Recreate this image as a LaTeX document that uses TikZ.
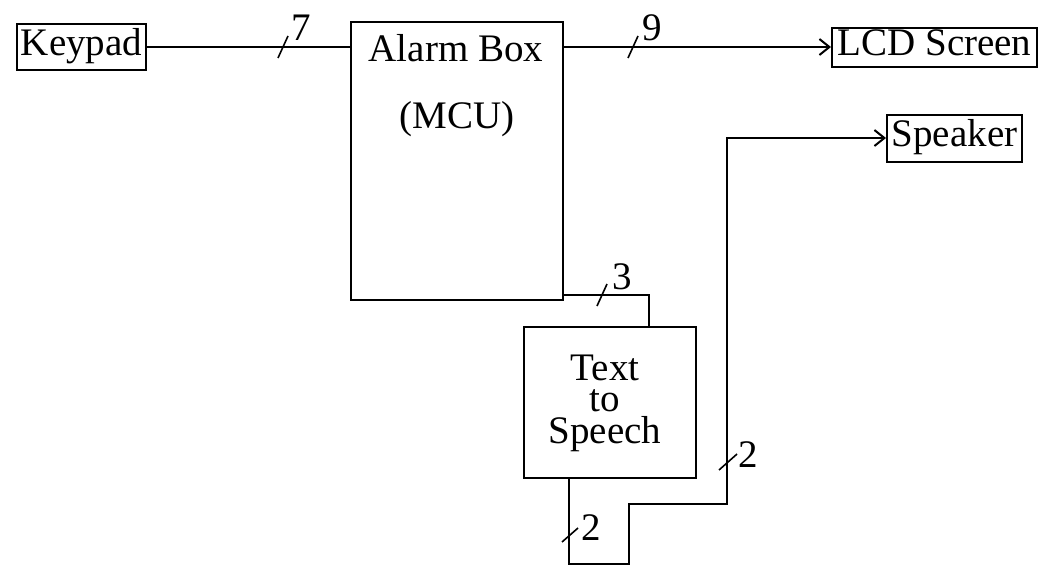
\documentclass[tikz,border=0pt]{standalone}
\usepackage{fontspec}
\setmainfont{Liberation Serif}
\usetikzlibrary{calc,arrows.meta}
\begin{document}
\begin{tikzpicture}[x=1pt,y=-1pt,
  every node/.style={font=\fontsize{39}{40}\selectfont},
  box/.style={draw, line width=2pt, inner sep=0pt, text height=26pt, text depth=9pt},
  wire/.style={line width=2pt},
  arr/.style={wire, -{Straight Barb[length=10pt,width=16pt,line width=2pt]}},
  busmark/.style={line width=1.6pt},
  lbl/.style={inner sep=0pt}]
\useasboundingbox (0,0) rectangle (1040,565);

% boxes
\node[box, minimum width=129pt, minimum height=46pt] (kp) at (81.5,47) {Keypad};
\node[box, minimum width=212pt, minimum height=278pt] (ab) at (457,161) {};
\node[anchor=base] (abt1) at (456,61) {Alarm Box};
\node[anchor=base] (abt2) at (457,128) {(MCU)};
\node[box, minimum width=205pt, minimum height=39pt] (lcd) at (934.5,47) {LCD Screen};
\node[box, minimum width=135pt, minimum height=47pt] (spk) at (954.5,138) {Speaker};
\node[box, minimum width=172pt, minimum height=151pt] (tts) at (610,402.5) {};
\node[align=center, inner sep=0pt, font=\fontsize{39}{31.5}\selectfont] (ttst) at (605,403) {Text\\to\\Speech};

% connectors
\draw[wire] (kp.east) -- (kp.east -| ab.west);
\draw[arr] (lcd.west -| ab.east) -- (lcd.west);
\draw[wire] ($(ab.south east)+(0,-6)$) -| ($(tts.north east)+(-48,0)$);
\draw[arr] ($(tts.south west)+(46,0)$) -- ++(0,85) -- ++(60,0) -- ++(0,-60) -- ++(98,0) |- (spk.west);

% bus width marks
\coordinate (s7) at (283,47);
\coordinate (s9) at (633,47);
\coordinate (s3) at (602,295);
\coordinate (s2a) at (570,535);
\coordinate (s2b) at (728,462);
\draw[busmark] (s7) ++(-5,11) -- ++(10,-22);
\draw[busmark] (s9) ++(-5,11) -- ++(10,-22);
\draw[busmark] (s3) ++(-5,11) -- ++(10,-22);
\draw[busmark] (s2a) ++(-8,7) -- ++(16,-14);
\draw[busmark] (s2b) ++(-9,8) -- ++(18,-16);

\node[lbl] (l7) at (301,28) {7};
\node[lbl] (l9) at (652,28) {9};
\node[lbl] (l3) at (622,277) {3};
\node[lbl] (l2a) at (591,528) {2};
\node[lbl] (l2b) at (748,455) {2};
\end{tikzpicture}
\end{document}
